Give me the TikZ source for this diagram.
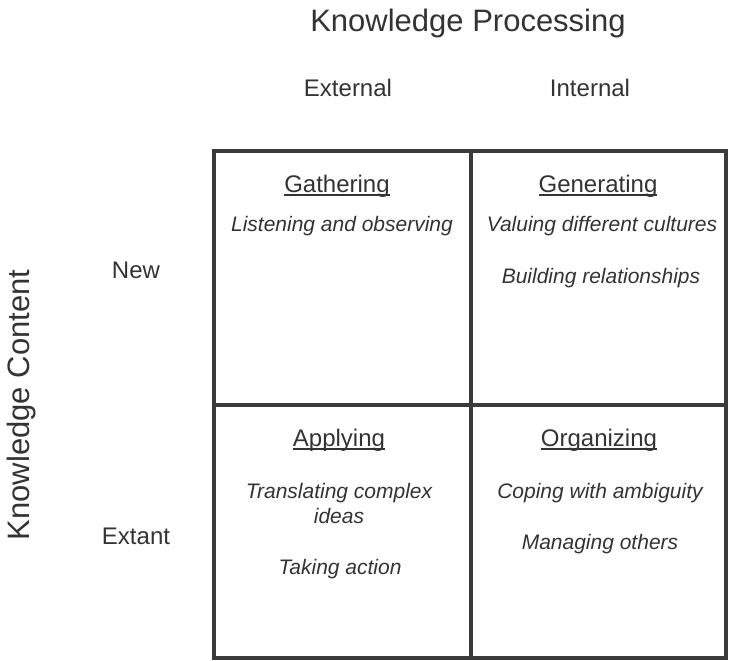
\documentclass[tikz,border=0pt]{standalone}
\usepackage{fontspec}
\setmainfont{Liberation Sans}
\definecolor{ink}{HTML}{333333}
\definecolor{gridc}{HTML}{3A3A3A}
\newcommand{\myul}[1]{\setbox0\hbox{#1}\rlap{\rule[-3.5pt]{\wd0}{1.1pt}}\box0}
\begin{document}
\begin{tikzpicture}[x=1pt,y=-1pt,
  every node/.style={text=ink, inner sep=0pt, anchor=base},
  big/.style={font=\fontsize{31}{36}\selectfont},
  lab/.style={font=\fontsize{24}{28}\selectfont},
  head/.style={font=\fontsize{24}{28}\selectfont},
  item/.style={font=\fontsize{21}{25}\selectfont\itshape, align=center},
  gridline/.style={draw=gridc, line width=4pt}]
\useasboundingbox (0,0) rectangle (729,661);
% grid
\draw[gridline] (214,151) rectangle (726,658);
\draw[gridline] (471,151) -- (471,658);
\draw[gridline] (214,405) -- (726,405);
% axis titles
\node[big] (kp) at (468,32) {Knowledge Processing};
\node[big, rotate=90] (kc) at (30,405) {Knowledge Content};
\node[lab] (ext) at (348,97) {External};
\node[lab] (int) at (590,97) {Internal};
\node[lab] (new) at (136,278) {New};
\node[lab] (exa) at (136,544) {Extant};
% cells
\node[head] (g1) at (337,192) {\myul{Gathering}};
\node[item] (g2) at (342,231) {Listening and observing};
\node[head] (n1) at (598,192) {\myul{Generating}};
\node[item] (n2) at (602,231) {Valuing different cultures};
\node[item] (n3) at (601,283) {Building relationships};
\node[head] (a1) at (339,446) {\myul{Applying}};
\node[item] (a2) at (339,498) {Translating complex};
\node[item] (a3) at (339,523) {ideas};
\node[item] (a4) at (340,574) {Taking action};
\node[head] (o1) at (599,446) {\myul{Organizing}};
\node[item] (o2) at (600,498) {Coping with ambiguity};
\node[item] (o3) at (600,549) {Managing others};
\end{tikzpicture}
\end{document}
